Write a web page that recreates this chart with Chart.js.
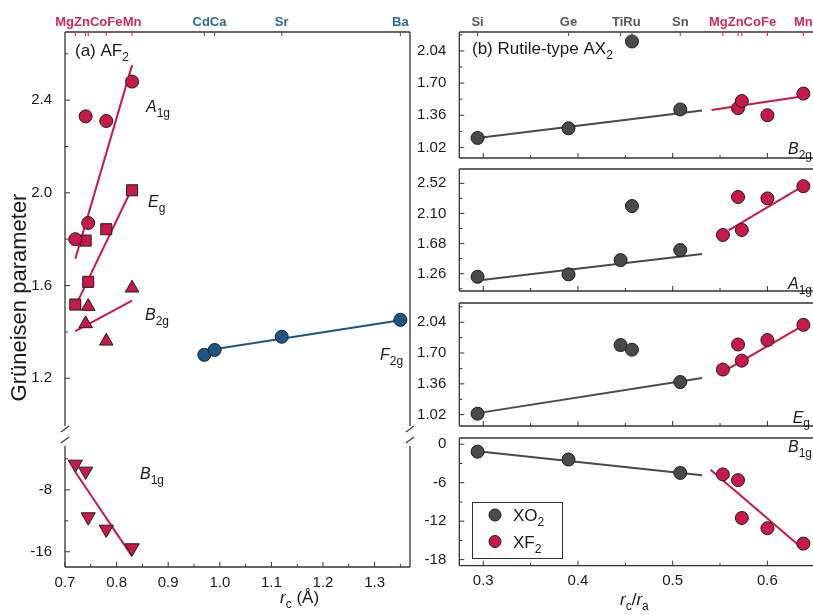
<!DOCTYPE html>
<html>
<head>
<meta charset="utf-8">
<script src="https://cdn.jsdelivr.net/npm/chart.js@4.4.1/dist/chart.umd.min.js"></script>
<style>
  html, body { margin: 0; padding: 0; background: #fff; overflow: hidden; }
  #fig { position: relative; width: 813px; height: 615px; overflow: hidden; background: #fff; }
  #fig canvas { position: absolute; }
</style>
</head>
<body>
<div id="fig"></div>
<script>
// ---------------- data ----------------
// Fluorite-type AF2 (F2g mode), cation radius r_c in Å
const fluoriteNames = ['Cd', 'Ca', 'Sr', 'Ba'];
const fluoriteRc    = [0.97, 0.99, 1.12, 1.35];
const fluoriteF2g   = [1.301, 1.322, 1.379, 1.452];
const fluoriteF2gFitX = [0.97, 1.35];
const fluoriteF2gFitY = [1.319, 1.450];

// Rutile-type fluorides XF2
const rutileFNames = ['Mg', 'Zn', 'Co', 'Fe', 'Mn'];
const rutileFRc    = [0.72, 0.74, 0.745, 0.78, 0.83];
const rutileFRatio = [0.553, 0.569, 0.573, 0.600, 0.638];
const rutileFA1g = [1.80, 2.33, 1.87, 2.31, 2.48];
const rutileFEg  = [1.518, 1.794, 1.616, 1.843, 2.011];
const rutileFB2g = [null, 1.435, 1.51, 1.36, 1.589];
const rutileFB1g = [-4.7, -5.6, -11.5, -13.1, -15.5];

// Linear fits of the fluorides versus r_c
const fitRcX      = [0.72, 0.83];
const fitRcA1gY   = [1.716, 2.551];
const fitRcEgY    = [1.51, 2.02];
const fitRcB2gY   = [1.403, 1.535];
const fitRcB1gY   = [-5.7, -16.6];

// Rutile-type oxides XO2
const rutileONames = ['Si', 'Ge', 'Ti', 'Ru', 'Sn'];
const rutileORatio = [0.294, 0.390, 0.445, 0.457, 0.508];
const rutileOB2g = [1.12, 1.222, null, 2.14, 1.421];
const rutileOA1g = [1.217, 1.251, 1.45, 2.203, 1.59];
const rutileOEg  = [1.031, null, 1.788, 1.737, 1.38];
const rutileOB1g = [-1.15, -2.38, null, null, -4.47];

// Linear fits versus r_c/r_a
const fitOX    = [0.294, 0.531];
const fitOB2gY = [1.12, 1.41];
const fitOA1gY = [1.166, 1.534];
const fitOEgY  = [1.037, 1.424];
const fitOB1gY = [-1.1, -4.82];
const fitFB2gX = [0.541, 0.638];
const fitFB2gY = [1.415, 1.56];
const fitFX    = [0.559, 0.638];
const fitFA1gY = [1.864, 2.486];
const fitFEgY  = [1.528, 2.006];
const fitFB1gX = [0.540, 0.638];
const fitFB1gY = [-3.97, -16.4];

// Axis ticks
const leftXMajor = [0.7, 0.8, 0.9, 1.0, 1.1, 1.2, 1.3];
const leftXMinor = [0.75, 0.85, 0.95, 1.05, 1.15, 1.25, 1.35];
const leftUpperYMajor = [1.2, 1.6, 2.0, 2.4];
const leftUpperYMinor = [1.4, 1.8, 2.2, 2.6];
const leftLowerYMajor = [-8, -16];
const leftLowerYMinor = [-4, -12];
const rightXMajor = [0.3, 0.4, 0.5, 0.6];
const rightXMinor = [0.35, 0.45, 0.55, 0.65];
const b2gYMajor = [1.02, 1.36, 1.70, 2.04];
const b2gYMinor = [1.19, 1.53, 1.87, 2.21];
const a1gYMajor = [1.26, 1.68, 2.10, 2.52];
const a1gYMinor = [1.05, 1.47, 1.89, 2.31];
const egYMajor  = [1.02, 1.36, 1.70, 2.04];
const egYMinor  = [1.19, 1.53, 1.87, 2.21];
const b1gYMajor = [0, -6, -12, -18];
const b1gYMinor = [-3, -9, -15];

// ---------------- style ----------------
const FONT = "'Liberation Sans', Arial, Helvetica, sans-serif";
const RED = '#c8194b', BLUE = '#1c5684', GREY = '#4a4a4a';
const EDGE = '#1c1c1c', AXIS = '#333333', INK = '#1a1a1a';
const LBL_RED = '#cf2a5a', LBL_BLUE = '#2b6a9a', LBL_GREY = '#595959';
Chart.defaults.font.family = FONT;

const fig = document.getElementById('fig');
const pts = (xs, ys) => xs.map((x, i) => ({ x, y: ys[i] })).filter(p => p.y !== null);

function markers(xs, ys, color, style, r, rot) {
  return {
    data: pts(xs, ys), showLine: false, pointStyle: style,
    pointRadius: r, pointHoverRadius: r, pointRotation: rot || 0,
    pointBackgroundColor: color, backgroundColor: color,
    pointBorderColor: EDGE, borderColor: EDGE, pointBorderWidth: 1, order: 1
  };
}
function fit(xs, ys, color) {
  return { data: pts(xs, ys), showLine: true, pointRadius: 0, pointHoverRadius: 0,
           borderColor: color, borderWidth: 2, order: 2, tension: 0 };
}

// text with italic / subscript runs: parts = [[text, flags]], flags: 'i' italic, 's' subscript, 'b' bold
function drawRich(ctx, x, y, parts, size, align, color) {
  const segs = parts.map(([t, f = '']) => {
    const fs = f.includes('s') ? Math.round(size * 0.72) : size;
    const font = `${f.includes('i') ? 'italic ' : ''}${f.includes('b') ? 'bold ' : ''}${fs}px ${FONT}`;
    ctx.font = font;
    return { t, font, w: ctx.measureText(t).width, dy: f.includes('s') ? size * 0.3 : 0 };
  });
  const total = segs.reduce((s, g) => s + g.w, 0);
  let cx = align === 'right' ? x - total : align === 'center' ? x - total / 2 : x;
  ctx.textAlign = 'left';
  ctx.textBaseline = 'alphabetic';
  ctx.fillStyle = color;
  segs.forEach(g => { ctx.font = g.font; ctx.fillText(g.t, cx, y + g.dy); cx += g.w; });
}

// frame, inward ticks, axis breaks, element labels, notes and legend
const framePlugin = {
  id: 'frame',
  afterDraw(chart, args, o) {
    const ctx = chart.ctx, a = chart.chartArea, sx = chart.scales.x, sy = chart.scales.y;
    const [ox, oy] = o.origin;
    const line = (x1, y1, x2, y2) => { ctx.beginPath(); ctx.moveTo(x1, y1); ctx.lineTo(x2, y2); ctx.stroke(); };
    ctx.save();
    ctx.strokeStyle = AXIS; ctx.lineWidth = 1.3; ctx.lineCap = 'butt';
    const s = o.sides;
    if (s.includes('t')) line(a.left, a.top, a.right, a.top);
    if (s.includes('b')) line(a.left, a.bottom, a.right, a.bottom);
    if (s.includes('l')) line(a.left, a.top, a.left, a.bottom);
    if (s.includes('r')) line(a.right, a.top, a.right, a.bottom);
    ctx.lineWidth = 1;
    (o.yMajor || []).forEach(v => { const p = sy.getPixelForValue(v); line(a.left, p, a.left + 5, p); });
    (o.yMinor || []).forEach(v => { const p = sy.getPixelForValue(v); line(a.left, p, a.left + 3, p); });
    (o.xMajor || []).forEach(v => { const p = sx.getPixelForValue(v); if (p <= a.right) line(p, a.bottom, p, a.bottom - 5); });
    (o.xMinor || []).forEach(v => { const p = sx.getPixelForValue(v); if (p <= a.right) line(p, a.bottom, p, a.bottom - 3); });
    ctx.lineWidth = 1.1;
    (o.breaks || []).forEach(b => {
      const y = b.y - oy;
      b.xs.forEach(xp => { const x = xp === 'l' ? a.left : a.right; line(x - 4, y + 3, x + 4, y - 3); });
    });
    if (o.elements) {
      ctx.font = `bold 13px ${FONT}`;
      const items = [];
      o.elements.forEach(g => g.names.forEach((n, i) =>
        items.push({ n, px: sx.getPixelForValue(g.xs[i]), color: g.color, w: ctx.measureText(n).width })));
      items.sort((p, q) => p.px - q.px);
      items.forEach(it => { ctx.strokeStyle = it.color; line(it.px, a.top, it.px, a.top + 4); });
      const groups = [];
      items.forEach(it => {
        groups.push({ items: [it], w: it.w, c: it.px });
        while (groups.length > 1) {
          const g2 = groups[groups.length - 1], g1 = groups[groups.length - 2];
          if (g1.c + g1.w / 2 > g2.c - g2.w / 2) {
            const m = g1.items.concat(g2.items);
            groups.splice(-2, 2, { items: m, w: g1.w + g2.w, c: m.reduce((t, q) => t + q.px, 0) / m.length });
          } else break;
        }
      });
      ctx.textAlign = 'left'; ctx.textBaseline = 'alphabetic';
      groups.forEach(g => {
        let x = g.c - g.w / 2;
        g.items.forEach(it => { ctx.fillStyle = it.color; ctx.fillText(it.n, x, a.top - 6); x += it.w; });
      });
    }
    (o.notes || []).forEach(n => {
      if (n.rot) {
        ctx.save();
        ctx.translate(n.x - ox, n.y - oy);
        ctx.rotate(n.rot);
        drawRich(ctx, 0, 0, n.parts, n.size, n.align || 'left', n.color || INK);
        ctx.restore();
      } else {
        drawRich(ctx, n.x - ox, n.y - oy, n.parts, n.size, n.align || 'left', n.color || INK);
      }
    });
    if (o.legend) {
      const L = o.legend;
      ctx.strokeStyle = AXIS; ctx.lineWidth = 1;
      ctx.strokeRect(L.x - ox + 0.5, L.y - oy + 0.5, L.w, L.h);
      L.items.forEach((it, i) => {
        const cy = L.y - oy + 13 + i * 26.5;
        ctx.beginPath(); ctx.arc(L.x - ox + 23, cy, 6, 0, Math.PI * 2);
        ctx.fillStyle = it.color; ctx.fill(); ctx.strokeStyle = EDGE; ctx.stroke();
        drawRich(ctx, L.x - ox + 41, cy + 6, it.parts, 17, 'left', INK);
      });
    }
    ctx.restore();
  }
};

function makeChart(g) {
  const c = document.createElement('canvas');
  c.width = g.w; c.height = g.h;
  c.style.left = g.left + 'px'; c.style.top = g.top + 'px';
  fig.appendChild(c);
  g.frame.origin = [g.left, g.top];
  return new Chart(c, {
    type: 'scatter',
    data: { datasets: g.datasets },
    options: {
      responsive: false, animation: false, devicePixelRatio: 1,
      events: [],
      layout: { padding: g.pad },
      plugins: { legend: { display: false }, tooltip: { enabled: false }, frame: g.frame },
      scales: {
        x: {
          type: 'linear', min: g.xMin, max: g.xMax, position: 'bottom', display: !!g.xLabels,
          grid: { display: false }, border: { display: false },
          ticks: { color: INK, font: { size: 15 }, padding: g.xPad || 0, autoSkip: false, maxRotation: 0,
                   callback: v => v.toFixed(1) },
          afterBuildTicks: s => { s.ticks = (g.xLabels || []).map(v => ({ value: v })); },
          afterFit: s => { s.height = g.xH || 0; }
        },
        y: {
          type: 'linear', min: g.yMin, max: g.yMax, position: 'left',
          grid: { display: false }, border: { display: false },
          ticks: { color: INK, font: { size: 15 }, padding: 5, autoSkip: false,
                   callback: v => v.toFixed(g.yDec) },
          afterBuildTicks: s => { s.ticks = g.yLabels.map(v => ({ value: v })); },
          afterFit: s => { s.width = g.yW; }
        }
      }
    },
    plugins: [framePlugin]
  });
}

// ---------------- (a) AF2, upper part ----------------
const LX0 = 0.7, LX1 = 1.3686;
makeChart({
  left: 0, top: 0, w: 420, h: 440, pad: { left: 0, top: 32, right: 10, bottom: 10 }, yW: 65,
  xMin: LX0, xMax: LX1, yMin: 0.994, yMax: 2.694, yLabels: leftUpperYMajor, yDec: 1,
  datasets: [
    fit(fitRcX, fitRcA1gY, RED), fit(fitRcX, fitRcEgY, RED), fit(fitRcX, fitRcB2gY, RED),
    fit(fluoriteF2gFitX, fluoriteF2gFitY, BLUE),
    markers(rutileFRc, rutileFA1g, RED, 'circle', 6.5),
    markers(rutileFRc, rutileFEg, RED, 'rect', 7.8),
    markers(rutileFRc, rutileFB2g, RED, 'triangle', 7.8),
    markers(fluoriteRc, fluoriteF2g, BLUE, 'circle', 6.5)
  ],
  frame: {
    sides: 'tlr', yMajor: leftUpperYMajor, yMinor: leftUpperYMinor,
    breaks: [{ y: 429, xs: ['l', 'r'] }],
    elements: [
      { names: rutileFNames, xs: rutileFRc, color: LBL_RED },
      { names: fluoriteNames, xs: fluoriteRc, color: LBL_BLUE }
    ],
    notes: [
      { x: 75, y: 56, size: 17, parts: [['(a) AF'], ['2', 's']] },
      { x: 146, y: 112, size: 16, parts: [['A', 'i'], ['1g', 's']] },
      { x: 148, y: 207, size: 16, parts: [['E', 'i'], ['g', 's']] },
      { x: 145, y: 320, size: 16, parts: [['B', 'i'], ['2g', 's']] },
      { x: 380, y: 360, size: 16, parts: [['F', 'i'], ['2g', 's']] },
      { x: 26, y: 297.5, size: 22, align: 'center', rot: -Math.PI / 2, parts: [['Grüneisen parameter']] }
    ]
  }
});

// ---------------- (a) AF2, lower part ----------------
makeChart({
  left: 0, top: 432, w: 420, h: 183, pad: { left: 0, top: 8, right: 10, bottom: 0 }, yW: 65, xH: 48,
  xMin: LX0, xMax: LX1, xLabels: leftXMajor, xPad: -1,
  yMin: -17.97, yMax: -2.34, yLabels: leftLowerYMajor, yDec: 0,
  datasets: [
    fit(fitRcX, fitRcB1gY, RED),
    markers(rutileFRc, rutileFB1g, RED, 'triangle', 8.2, 180)
  ],
  frame: {
    sides: 'blr', yMajor: leftLowerYMajor, yMinor: leftLowerYMinor, xMajor: leftXMajor, xMinor: leftXMinor,
    breaks: [{ y: 440, xs: ['l', 'r'] }],
    notes: [
      { x: 140, y: 479, size: 16, parts: [['B', 'i'], ['1g', 's']] },
      { x: 280, y: 603, size: 17, parts: [['r', 'i'], ['c', 's'], [' (Å)']] }
    ]
  }
});

// ---------------- (b) rutile-type AX2 ----------------
const RX0 = 0.2747, RX1 = 0.6661;
const rightPanel = (geom, extra) => Object.assign({
  left: 400, w: 440, yW: 59.3, xMin: RX0, xMax: RX1
}, geom, extra);

makeChart(rightPanel({ top: 0, h: 172, pad: { left: 0, top: 32, right: 10, bottom: 8.7 } }, {
  yMin: 0.908, yMax: 2.24, yLabels: b2gYMajor, yDec: 2,
  datasets: [
    fit(fitOX, fitOB2gY, GREY), fit(fitFB2gX, fitFB2gY, RED),
    markers(rutileORatio, rutileOB2g, GREY, 'circle', 6.5),
    markers(rutileFRatio, rutileFB2g, RED, 'circle', 6.5)
  ],
  frame: {
    sides: 'tblr', yMajor: b2gYMajor, yMinor: b2gYMinor, xMajor: rightXMajor, xMinor: rightXMinor,
    elements: [
      { names: rutileONames, xs: rutileORatio, color: LBL_GREY },
      { names: rutileFNames, xs: rutileFRatio, color: LBL_RED }
    ],
    notes: [
      { x: 472, y: 54, size: 17, parts: [['(b) Rutile-type AX'], ['2', 's']] },
      { x: 812, y: 154, size: 16, align: 'right', parts: [['B', 'i'], ['2g', 's']] }
    ]
  }
}));

makeChart(rightPanel({ top: 155, h: 150, pad: { left: 0, top: 8.3, right: 10, bottom: 7.7 } }, {
  yMin: 1.019, yMax: 2.72, yLabels: a1gYMajor, yDec: 2,
  datasets: [
    fit(fitOX, fitOA1gY, GREY), fit(fitFX, fitFA1gY, RED),
    markers(rutileORatio, rutileOA1g, GREY, 'circle', 6.5),
    markers(rutileFRatio, rutileFA1g, RED, 'circle', 6.5)
  ],
  frame: {
    sides: 'tblr', yMajor: a1gYMajor, yMinor: a1gYMinor, xMajor: rightXMajor, xMinor: rightXMinor,
    notes: [{ x: 812, y: 289, size: 16, align: 'right', parts: [['A', 'i'], ['1g', 's']] }]
  }
}));

makeChart(rightPanel({ top: 289, h: 151, pad: { left: 0, top: 8.3, right: 10, bottom: 8.3 } }, {
  yMin: 0.895, yMax: 2.252, yLabels: egYMajor, yDec: 2,
  datasets: [
    fit(fitOX, fitOEgY, GREY), fit(fitFX, fitFEgY, RED),
    markers(rutileORatio, rutileOEg, GREY, 'circle', 6.5),
    markers(rutileFRatio, rutileFEg, RED, 'circle', 6.5)
  ],
  frame: {
    sides: 'tblr', yMajor: egYMajor, yMinor: egYMinor, xMajor: rightXMajor, xMinor: rightXMinor,
    notes: [{ x: 810, y: 422.5, size: 16, align: 'right', parts: [['E', 'i'], ['g', 's']] }]
  }
}));

makeChart(rightPanel({ top: 424, h: 191, pad: { left: 0, top: 7.7, right: 10, bottom: 0 } }, {
  xH: 49.3, xLabels: rightXMajor, xPad: -1.5,
  yMin: -18.95, yMax: 0.98, yLabels: b1gYMajor, yDec: 0,
  datasets: [
    fit(fitOX, fitOB1gY, GREY), fit(fitFB1gX, fitFB1gY, RED),
    markers(rutileORatio, rutileOB1g, GREY, 'circle', 6.5),
    markers(rutileFRatio, rutileFB1g, RED, 'circle', 6.5)
  ],
  frame: {
    sides: 'tblr', yMajor: b1gYMajor, yMinor: b1gYMinor, xMajor: rightXMajor, xMinor: rightXMinor,
    notes: [
      { x: 812, y: 452, size: 16, align: 'right', parts: [['B', 'i'], ['1g', 's']] },
      { x: 620, y: 605, size: 17, parts: [['r', 'i'], ['c', 's'], ['/'], ['r', 'i'], ['a', 's']] }
    ],
    legend: {
      x: 472, y: 502, w: 90, h: 56,
      items: [
        { color: GREY, parts: [['XO'], ['2', 's']] },
        { color: RED, parts: [['XF'], ['2', 's']] }
      ]
    }
  }
}));
</script>
</body>
</html>
